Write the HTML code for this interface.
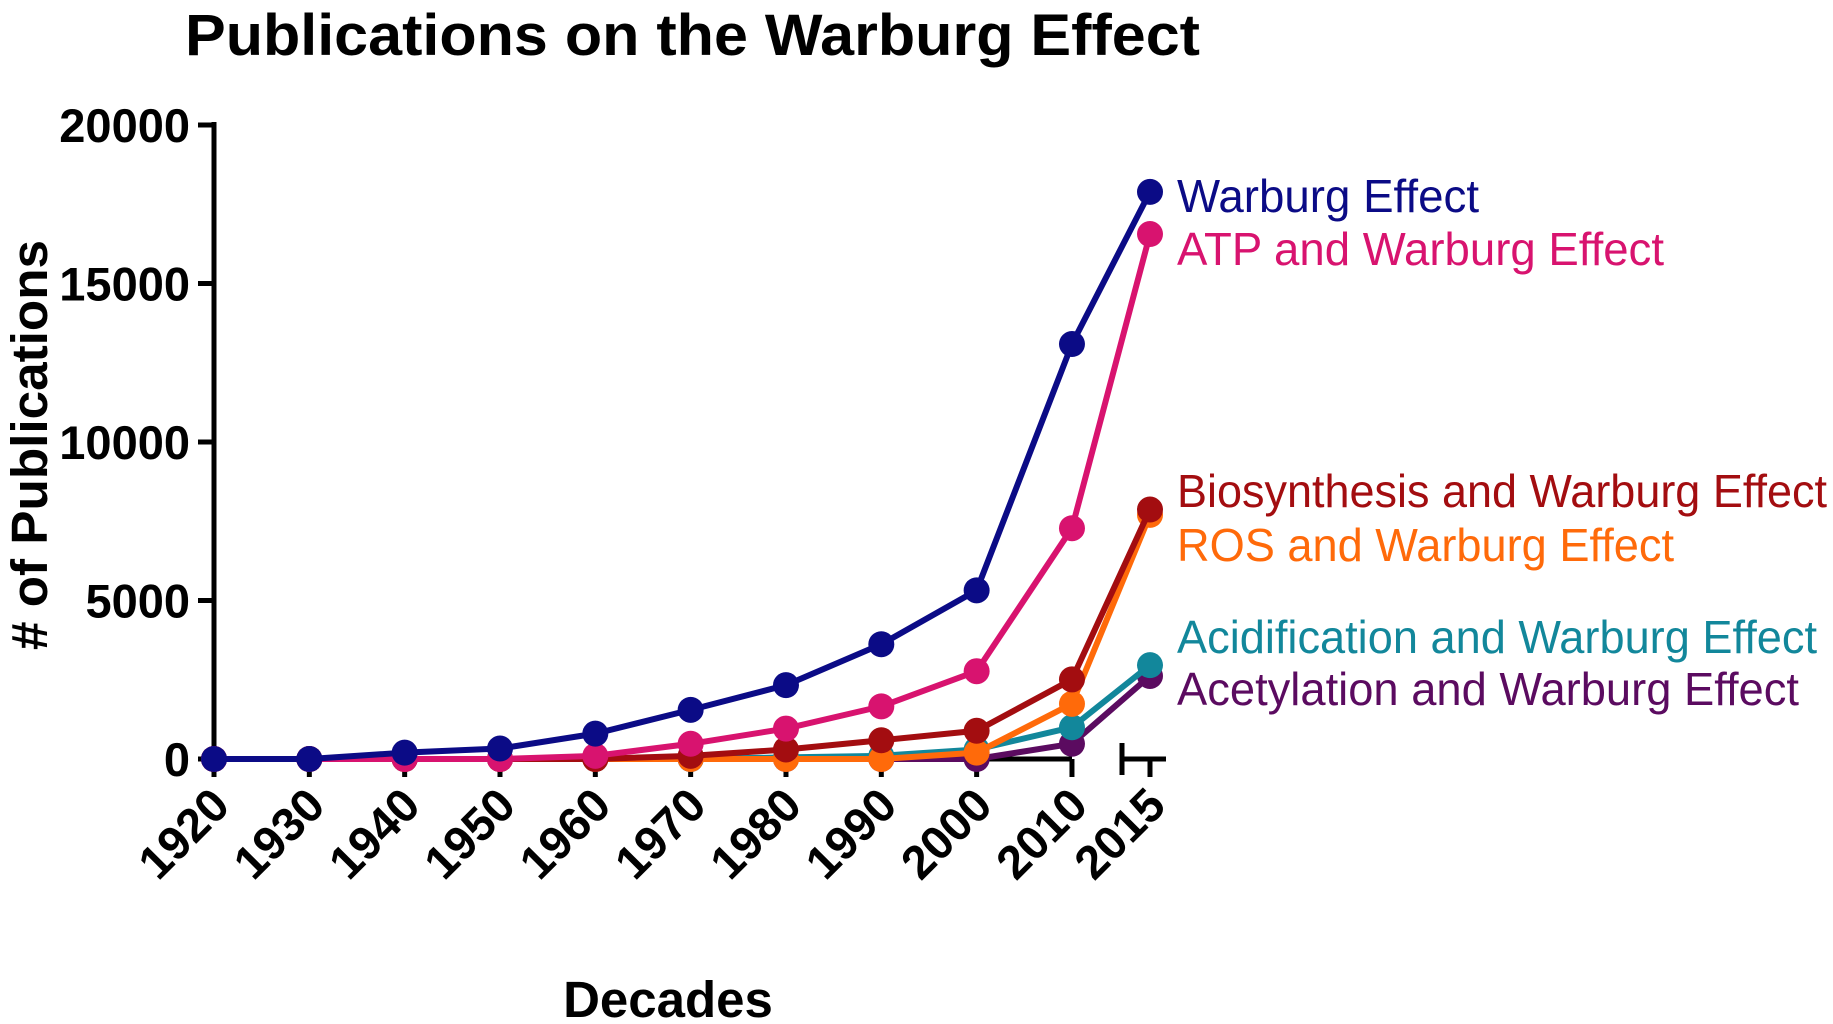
<!DOCTYPE html>
<html><head><meta charset="utf-8"><style>
html,body{margin:0;padding:0;background:#fff;}
svg{display:block;font-family:"Liberation Sans",Arial,sans-serif;}
</style></head><body>
<svg id="chart" width="1833" height="1024" viewBox="0 0 1833 1024">
<text x="185" y="55" font-size="58" font-weight="bold" textLength="1015" lengthAdjust="spacingAndGlyphs">Publications on the Warburg Effect</text>
<text transform="translate(47,445) rotate(-90)" text-anchor="middle" font-size="51" font-weight="bold" textLength="410" lengthAdjust="spacingAndGlyphs">#&#160;of Publications</text>
<text x="668" y="1017" text-anchor="middle" font-size="51" font-weight="bold">Decades</text>
<g id="axes"></g>
<g id="series"></g>
<g id="legend"></g>
</svg>
<script>
const decades = ["1920","1930","1940","1950","1960","1970","1980","1990","2000","2010","2015"];
const yTicks = [0,5000,10000,15000,20000];
const seriesNames = ["Warburg Effect","ATP and Warburg Effect","Biosynthesis and Warburg Effect","ROS and Warburg Effect","Acidification and Warburg Effect","Acetylation and Warburg Effect"];
const warburg = [0,0,200,330,800,1550,2330,3620,5320,13090,17890];
const atp = [0,0,0,0,100,480,960,1660,2770,7280,16560];
const biosynthesis = [0,0,0,0,0,100,300,590,890,2510,7870];
const ros = [0,0,0,0,0,0,0,0,200,1740,7700];
const acidification = [0,0,0,0,0,0,50,100,300,1000,2960];
const acetylation = [0,0,0,0,0,0,0,0,0,480,2620];

const NS="http://www.w3.org/2000/svg";
const colors=["#0b0b86","#d8136f","#a30d10","#ff6a0a","#12879b","#5b0b60"];
const legendY=[212,265,507,561,653,705];
const legendW=[302,487,650,497,640,622];
const allSeries=[warburg,atp,biosynthesis,ros,acidification,acetylation];
function y(v){return 759-(v/20000)*634;}
function x(i){return i<10?214+i*95.33:1150;}
function mk(tag,attrs,parent){const e=document.createElementNS(NS,tag);for(const k in attrs)e.setAttribute(k,attrs[k]);parent.appendChild(e);return e;}
const axes=document.getElementById('axes'),ser=document.getElementById('series'),leg=document.getElementById('legend');
let a=mk('line',{x1:214,y1:122,x2:214,y2:761,stroke:'#000','stroke-width':5},axes);


a=mk('line',{x1:211,y1:759,x2:1072,y2:759,stroke:'#000','stroke-width':5},axes);


a=mk('line',{x1:1122,y1:759,x2:1166,y2:759,stroke:'#000','stroke-width':5},axes);


a=mk('line',{x1:1122,y1:743,x2:1122,y2:775,stroke:'#000','stroke-width':5},axes);


yTicks.forEach(v=>{
  const t=mk('line',{x1:198,y1:y(v),x2:214,y2:y(v),stroke:'#000','stroke-width':5},axes);
  
  
  const l=mk('text',{x:190,y:y(v)+17,'text-anchor':'end','font-size':47,'font-weight':'bold'},axes);
  l.textContent=v;
  
  
});
decades.forEach((d,i)=>{
  const t=mk('line',{x1:x(i),y1:759,x2:x(i),y2:777,stroke:'#000','stroke-width':5},axes);
  
  
  const l=mk('text',{transform:`translate(${x(i)+18},${808}) rotate(-45)`,'text-anchor':'end','font-size':47,'font-weight':'bold'},axes);
  l.textContent=d;
  
  
});
for(let s=allSeries.length-1;s>=0;s--){
  const vals=allSeries[s];
  const g=mk('g',{},ser);
  
  
  const p=mk('polyline',{points:vals.map((v,i)=>x(i)+','+y(v)).join(' '),fill:'none',stroke:colors[s],'stroke-width':6,'stroke-linejoin':'round'},g);
  
  
  vals.forEach((v,i)=>{
    const c=mk('circle',{cx:x(i),cy:y(v),r:13,fill:colors[s]},g);
    
    
  });
  const lt=mk('text',{x:1177,y:legendY[s],'font-size':46,fill:colors[s],textLength:legendW[s],lengthAdjust:'spacingAndGlyphs'},leg);
  lt.textContent=seriesNames[s];
  
  
}
</script>
</body></html>
